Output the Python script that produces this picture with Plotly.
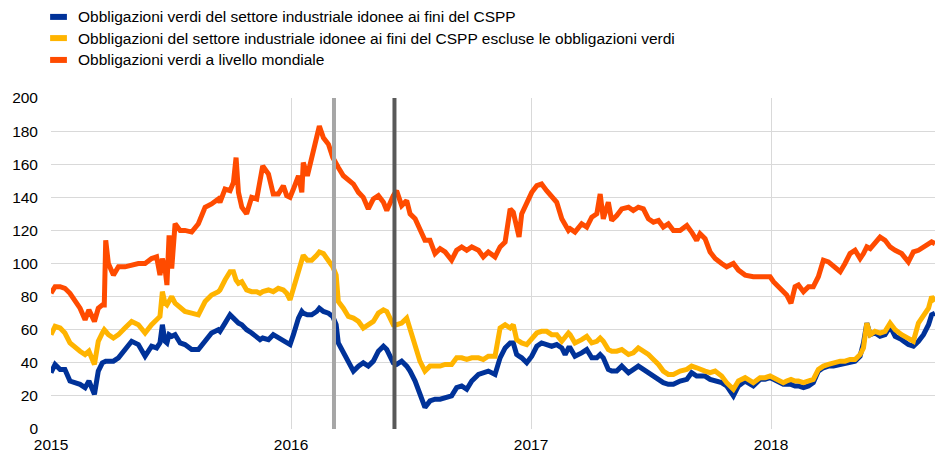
import plotly.graph_objects as go

# time axis in decimal years
years = [
    2015.000, 2015.017, 2015.038, 2015.058, 2015.079, 2015.100, 2015.121, 2015.142, 2015.158, 2015.181,
    2015.197, 2015.214, 2015.222, 2015.228, 2015.239, 2015.260, 2015.281, 2015.308, 2015.336, 2015.364,
    2015.392, 2015.419, 2015.440, 2015.454, 2015.464, 2015.475, 2015.483, 2015.492, 2015.503, 2015.517,
    2015.538, 2015.558, 2015.586, 2015.614, 2015.642, 2015.669, 2015.697,
    2015.704, 2015.725, 2015.746, 2015.760, 2015.771, 2015.781, 2015.795, 2015.815, 2015.836, 2015.857,
    2015.871, 2015.882, 2015.906, 2015.926, 2015.947, 2015.968, 2015.982, 2015.996, 2016.010, 2016.031,
    2016.045, 2016.051, 2016.068, 2016.086, 2016.107, 2016.118, 2016.135, 2016.156, 2016.174, 2016.188,
    2016.197, 2016.218, 2016.239, 2016.260, 2016.281, 2016.301, 2016.322, 2016.343, 2016.364, 2016.385,
    2016.399, 2016.413, 2016.426,
    2016.440, 2016.461, 2016.482, 2016.496, 2016.517, 2016.537, 2016.558, 2016.579, 2016.600, 2016.621,
    2016.642, 2016.669, 2016.690, 2016.711, 2016.732, 2016.753, 2016.781, 2016.801, 2016.822, 2016.850,
    2016.871, 2016.892, 2016.913, 2016.926, 2016.940, 2016.950, 2016.961, 2016.982, 2017.003, 2017.024,
    2017.044, 2017.065, 2017.086, 2017.107, 2017.128, 2017.142, 2017.156,
    2017.163, 2017.183, 2017.211, 2017.232, 2017.253, 2017.274, 2017.288, 2017.301, 2017.322, 2017.336,
    2017.357, 2017.378, 2017.406, 2017.426, 2017.447, 2017.468, 2017.489, 2017.510, 2017.531, 2017.551,
    2017.572, 2017.593, 2017.621, 2017.649, 2017.669, 2017.690, 2017.704, 2017.725, 2017.746, 2017.767,
    2017.794, 2017.815, 2017.843, 2017.864,
    2017.892, 2017.926, 2017.954, 2017.975, 2017.996, 2018.010, 2018.031, 2018.051, 2018.065, 2018.083,
    2018.100, 2018.114, 2018.135, 2018.156, 2018.176, 2018.197, 2018.218, 2018.239, 2018.260, 2018.288,
    2018.308, 2018.329, 2018.350, 2018.371, 2018.385, 2018.399, 2018.413, 2018.433, 2018.454, 2018.475,
    2018.496, 2018.517, 2018.544, 2018.572, 2018.593, 2018.614, 2018.635, 2018.656, 2018.669, 2018.683,
]

green_cspp = [
    34, 39, 36, 36, 29, 28, 27, 25, 29, 21,
    35, 40, 41, 41, 41, 41, 43, 48, 53, 51,
    44, 50, 49, 52, 63, 53, 52, 57, 56, 57,
    52, 51, 48, 48, 53, 58, 60,
    59, 64, 69, 67, 65, 64, 63, 60, 58, 56,
    54, 55, 54, 57, 55, 53, 52, 51, 57, 67,
    71, 70, 69, 69, 71, 73, 71, 70, 68, 63,
    52, 46, 41, 35, 38, 40, 38, 41, 47, 50,
    48, 43, 40,
    39, 41, 38, 35, 29, 20, 13, 17, 18, 18,
    19, 20, 25, 26, 24, 29, 33, 34, 35, 33,
    43, 49, 52, 52, 45, 44, 43, 40, 44, 50,
    52, 51, 50, 51, 49, 45, 49,
    49, 44, 46, 48, 43, 43, 45, 43, 36, 35,
    35, 38, 34, 36, 38, 36, 34, 32, 30, 28,
    27, 27, 29, 30, 34, 32, 32, 32, 30, 29,
    28, 26, 20, 26,
    29, 26, 30, 30, 31, 30, 28, 27, 27, 27,
    26, 26, 25, 26, 28, 35, 37, 38, 38, 39,
    40, 41, 41, 44, 52, 64, 57, 58, 56, 57,
    62, 56, 54, 51, 50, 53, 57, 63, 69, 70,
]

cspp_ex_green = [
    57, 62, 61, 58, 52, 49, 47, 45, 47, 39,
    53, 58, 60, 59, 57, 55, 57, 61, 65, 63,
    58, 63, 66, 68, 83, 76, 75, 78, 80, 76,
    73, 71, 70, 69, 77, 81, 83,
    84, 90, 95, 95, 90, 88, 89, 84, 83, 83,
    82, 83, 84, 83, 85, 84, 82, 78, 85, 94,
    102, 105, 102, 102, 105, 107, 106, 101, 98, 93,
    77, 73, 68, 67, 65, 61, 63, 65, 70, 72,
    71, 66, 63,
    63, 64, 67, 60, 52, 41, 35, 38, 38, 38,
    39, 39, 43, 43, 42, 43, 43, 42, 44, 44,
    61, 63, 61, 63, 54, 53, 52, 51, 54, 58,
    59, 59, 57, 57, 53, 56, 58,
    57, 52, 54, 56, 52, 53, 55, 53, 48, 47,
    47, 48, 45, 46, 49, 47, 45, 42, 39, 35,
    33, 33, 35, 36, 38, 37, 36, 35, 34, 35,
    32, 28, 24, 29,
    31, 28, 31, 31, 32, 31, 30, 28, 29, 30,
    29, 29, 28, 29, 30, 36, 38, 39, 40, 41,
    41, 42, 42, 45, 49, 64, 57, 59, 58, 59,
    64, 60, 57, 55, 53, 64, 69, 73, 80, 77,
]

green_global = [
    82, 86, 86, 85, 82, 78, 73, 66, 72, 65,
    73, 75, 75, 114, 100, 93, 98, 98, 99, 100,
    100, 103, 104, 93, 103, 97, 87, 117, 97, 124,
    120, 120, 119, 124, 134, 136, 139,
    137, 145, 144, 149, 164, 143, 134, 130, 140, 139,
    153, 159, 154, 142, 142, 147, 141, 140, 145, 153,
    143, 161, 153, 165, 176, 183, 176, 172, 164, 161,
    158, 153, 150, 148, 143, 140, 133, 139, 141, 137,
    132, 137, 141,
    144, 135, 138, 130, 127, 121, 114, 114, 106, 109,
    107, 102, 108, 110, 108, 110, 108, 104, 107, 104,
    110, 113, 133, 131, 121, 116, 130, 137, 143, 147,
    148, 144, 141, 137, 127, 124, 120,
    121, 119, 124, 122, 128, 130, 142, 127, 137, 126,
    129, 133, 134, 132, 134, 133, 127, 125, 126, 122,
    124, 120, 120, 123, 119, 114, 118, 115, 107, 103,
    100, 98, 100, 96,
    93, 92, 92, 92, 92, 89, 86, 83, 81, 76,
    86, 87, 83, 86, 86, 92, 102, 101, 98, 95,
    100, 106, 108, 103, 106, 110, 109, 113, 116, 114,
    110, 108, 106, 101, 107, 108, 110, 112, 113, 112,
]

series_names = [
    "Obbligazioni verdi del settore industriale idonee ai fini del CSPP",
    "Obbligazioni del settore industriale idonee ai fini del CSPP escluse le obbligazioni verdi",
    "Obbligazioni verdi a livello mondiale",
]
series_colors = ["#003299", "#FFB400", "#FF4B00"]

# CSPP announcement (10 Mar 2016) and start of purchases (8 Jun 2016)
event_years = [2016.179, 2016.431]
event_colors = ["#A6A6A6", "#595959"]

year_ticks = [2015, 2016, 2017, 2018]
y_ticks = list(range(0, 201, 20))

fig = go.Figure()
for name, vals, col in zip(series_names, [green_cspp, cspp_ex_green, green_global], series_colors):
    fig.add_trace(go.Scatter(x=years, y=vals, mode="lines", name=name,
                             line=dict(color=col, width=5), showlegend=False))

for ev, col in zip(event_years, event_colors):
    fig.add_shape(type="line", x0=ev, x1=ev, y0=0, y1=200, xref="x", yref="y",
                  line=dict(color=col, width=4), layer="above")

# legend drawn by hand: short thick swatch + text, stacked at the top left
legend_rows = [1.245, 1.181, 1.115]
for name, col, ly in zip(series_names, series_colors, legend_rows):
    fig.add_shape(type="line", xref="paper", yref="paper", x0=-0.001, x1=0.018, y0=ly, y1=ly,
                  line=dict(color=col, width=6))
    fig.add_annotation(xref="paper", yref="paper", x=0.028, y=ly, text=name, showarrow=False,
                       xanchor="left", yanchor="middle", font=dict(size=15.5, color="#000000"))

fig.update_layout(
    width=935, height=455,
    margin=dict(l=51, r=0, t=98, b=26),
    plot_bgcolor="white", paper_bgcolor="white",
    font=dict(family="Arial, Liberation Sans, sans-serif", size=15.5, color="#000000"),
    showlegend=False,
    xaxis=dict(range=[2015, 2018.683], tickvals=year_ticks, ticktext=[str(y) for y in year_ticks],
               showgrid=True, gridcolor="#D9D9D9", gridwidth=1, zeroline=False,
               showline=False, ticks="", ticklabelstandoff=4, automargin=False),
    yaxis=dict(range=[0, 200], tickvals=y_ticks, showgrid=True, gridcolor="#D9D9D9",
               gridwidth=1, zeroline=False, showline=False, ticks="", ticklabelstandoff=12,
               automargin=False),
)

# drop the default 8px body margin so the 935x455 figure fills the window exactly
fig.write_html("out.html", config={"displayModeBar": False},
               post_script="document.body.style.margin='0';document.body.style.overflow='hidden';")
